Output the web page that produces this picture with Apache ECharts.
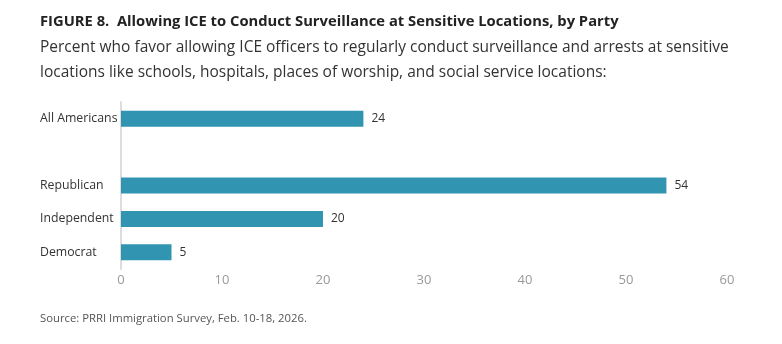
<!DOCTYPE html>
<html><head><meta charset="utf-8">
<script src="https://cdn.jsdelivr.net/npm/echarts@6/dist/echarts.min.js"></script>
<style>html,body{margin:0;padding:0;background:#fff}#c{width:782px;height:344px}</style>
</head><body><div id="c"></div>
<script>
const categories = ['Democrat', 'Independent', 'Republican', '', 'All Americans'];
const values = [5, 20, 54, null, 24];
const xTicks = [0, 10, 20, 30, 40, 50, 60];

const FONT = '"Open Sans", sans-serif';
const chart = echarts.init(document.getElementById('c'), null, {renderer: 'canvas'});
chart.setOption({
  animation: false,
  backgroundColor: '#fff',
  title: [
    {text: 'FIGURE 8.  Allowing ICE to Conduct Surveillance at Sensitive Locations, by Party',
     left: 40, top: 14, padding: 0, textStyle: {fontFamily: FONT, fontSize: 14.75, fontWeight: 'bold', color: '#222'}},
    {text: 'Percent who favor allowing ICE officers to regularly conduct surveillance and arrests at sensitive\nlocations like schools, hospitals, places of worship, and social service locations:',
     left: 40, top: 35, padding: 0, textStyle: {fontFamily: FONT, fontSize: 15.5, fontWeight: 'normal', color: '#333', lineHeight: 25}},
    {text: 'Source: PRRI Immigration Survey, Feb. 10-18, 2026.',
     left: 40, top: 313, padding: 0, textStyle: {fontFamily: FONT, fontSize: 11.3, fontWeight: 'normal', color: '#555'}}
  ],
  grid: {left: 121, right: 55, top: 102, bottom: 75, containLabel: false},
  xAxis: {
    type: 'value', min: xTicks[0], max: xTicks[xTicks.length - 1], interval: 10,
    axisLine: {show: false}, axisTick: {show: false}, splitLine: {show: false},
    axisLabel: {fontFamily: FONT, fontSize: 13, color: '#999', margin: 5}
  },
  yAxis: {
    type: 'category', data: categories,
    axisLine: {show: true, lineStyle: {color: '#ddd', width: 2}},
    axisTick: {show: false},
    axisLabel: {fontFamily: FONT, fontSize: 12.3, color: '#333', align: 'left', margin: 81}
  },
  series: [{
    type: 'bar', data: values, barWidth: 16,
    itemStyle: {color: '#3194b0'},
    label: {show: true, position: 'right', distance: 8, fontFamily: FONT, fontSize: 12, color: '#333'}
  }]
});
</script></body></html>
